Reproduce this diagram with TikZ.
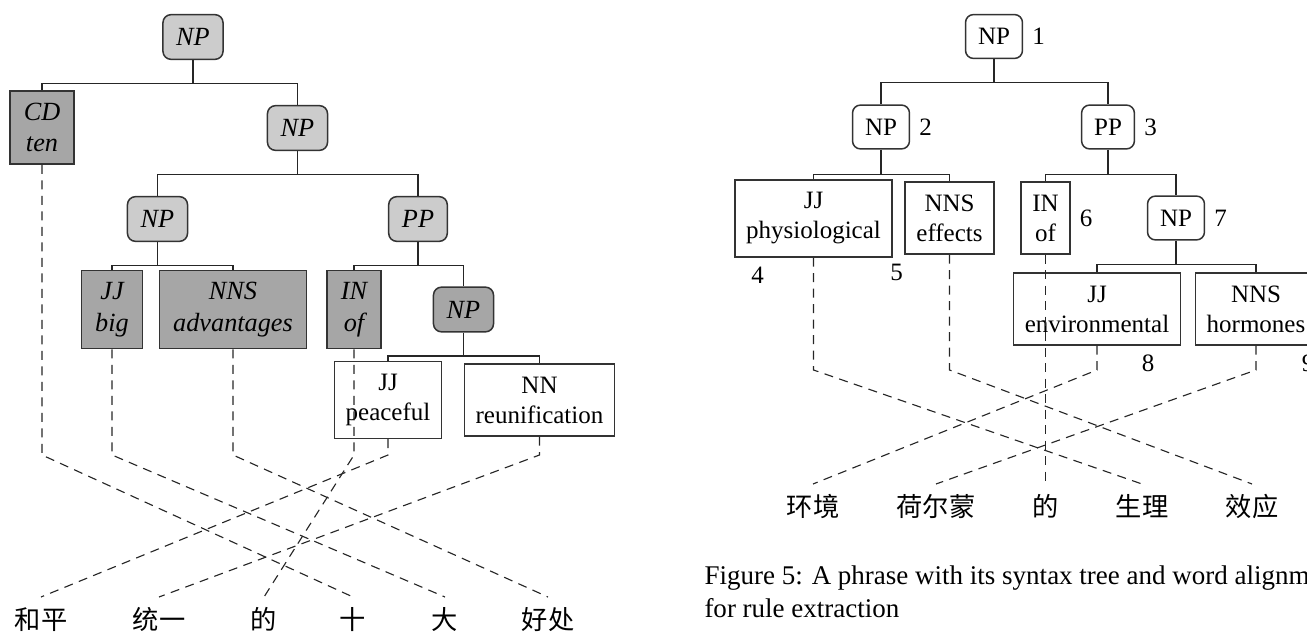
\documentclass[tikz,border=0pt]{standalone}
\usepackage{fontspec}
\setmainfont{Liberation Serif}
\newfontfamily\cjk{Noto Sans CJK SC}
\usetikzlibrary{positioning, calc}
\tikzset{
  cat/.style={
    rectangle, rounded corners=3.2pt, draw=black!80, fill=black!20,
    line width=0.6pt, inner xsep=5.3pt, inner ysep=5.5pt,
    font=\fontsize{10.5}{12.6}\selectfont\itshape
  },
  catdark/.style={cat, fill=black!35},
  leaf/.style={
    rectangle, draw=black!80, fill=black!35, line width=0.6pt,
    inner xsep=5.5pt, inner ysep=4.8pt, align=center,
    font=\fontsize{10.5}{12.6}\selectfont\itshape
  },
  wleaf/.style={
    rectangle, draw=black!80, fill=white, line width=0.6pt,
    inner xsep=4.5pt, inner ysep=5pt, align=center
  },
  wcat/.style={
    rectangle, rounded corners=3.2pt, draw=black!80, fill=white,
    line width=0.6pt, inner xsep=5pt, inner ysep=5.5pt
  },
  num/.style={inner sep=0pt},
  word/.style={font=\cjk\fontsize{10.5}{12}\selectfont, inner sep=4pt, anchor=north},
  branch/.style={line width=0.5pt, black!85},
  wordlink/.style={dash pattern=on 3.6pt off 2.6pt, line width=0.45pt, black!85}
}

\begin{document}
\begin{tikzpicture}[x=0.4pt, y=-0.4pt]
    \useasboundingbox (0,0) rectangle (1307,632);
    \clip (0,0) rectangle (1307,632);

    % Left tree
    \node[cat] (lroot) at (193,37) {NP};
    \node[leaf] (lcd) at (42,127.5) {CD\\ten};
    \node[cat] (lnp2) at (297.5,128) {NP};
    \node[cat] (lnp3) at (157.5,219) {NP};
    \node[cat] (lpp) at (418,219) {PP};
    \node[leaf] (ljj) at (112,309.5) {JJ\\big};
    \node[leaf] (lnns) at (233,309.5) {NNS\\advantages};
    \node[leaf] (lin) at (354,309.5) {IN\\of};
    \node[catdark] (lnp4) at (463.5,309.5) {NP};
    \node[wleaf] (lpeace) at (388,400) {JJ\\peaceful};
    \node[wleaf] (lreun) at (539.5,400) {NN\\reunification};

    \draw[branch] (lroot.south) -- ++(0,23.5) coordinate (lb1)
      (lb1) -| (lcd.north) (lb1) -| (lnp2.north);
    \draw[branch] (lnp2.south) -- ++(0,23.5) coordinate (lb2)
      (lb2) -| (lnp3.north) (lb2) -| (lpp.north);
    \draw[branch] (lnp3.south) -- ++(0,23.5) coordinate (lb3)
      (lb3) -| (ljj.north) (lb3) -| (lnns.north);
    \draw[branch] (lpp.south) -- ++(0,23.5) coordinate (lb4)
      (lb4) -| (lin.north) (lb4) -| (lnp4.north);
    \draw[branch] (lnp4.south) -- ++(0,23.5) coordinate (lb5)
      (lb5) -| (lpeace.north) (lb5) -| (lreun.north);

    % Left Chinese words
    \node[word] (lw1) at (41,597) {和平};
    \node[word] (lw2) at (159,597) {统一};
    \node[word] (lw3) at (264,597) {的};
    \node[word] (lw4) at (353,597) {十};
    \node[word] (lw5) at (445,597) {大};
    \node[word] (lw6) at (548,597) {好处};

    % Left alignment
    \draw[wordlink] (lcd.south) -- (lcd.south |- 0,455) -- (lw4.north);
    \draw[wordlink] (ljj.south) -- (ljj.south |- 0,455) -- (lw5.north);
    \draw[wordlink] (lnns.south) -- (lnns.south |- 0,455) -- (lw6.north);
    \draw[wordlink] (lin.south) -- (lin.south |- 0,455) -- (lw3.north);
    \draw[wordlink] (lpeace.south) -- (lpeace.south |- 0,455) -- (lw1.north);
    \draw[wordlink] (lreun.south) -- (lreun.south |- 0,455) -- (lw2.north);

    % Right tree
    \node[wcat] (rroot) at (994,36.5) {NP};
    \node[wcat] (rnp2) at (881,127) {NP};
    \node[wcat] (rpp) at (1108,127) {PP};
    \node[wleaf] (rphys) at (813.5,218.5) {JJ\\physiological};
    \node[wleaf] (reff) at (949.5,218) {NNS\\effects};
    \node[wleaf] (rin) at (1045.5,218) {IN\\of};
    \node[wcat] (rnp7) at (1176,218) {NP};
    \node[wleaf] (renv) at (1097,309) {JJ\\environmental};
    \node[wleaf] (rhorm) at (1256,309) {NNS\\hormones};

    \node[num, right=3.5pt of rroot] (n1) {1};
    \node[num, right=3.5pt of rnp2] (n2) {2};
    \node[num, right=3.5pt of rpp] (n3) {3};
    \node[num] (n4) at ([shift={(-56,18)}]rphys.south) {4};
    \node[num] (n5) at ([shift={(-53,18)}]reff.south) {5};
    \node[num, right=3.5pt of rin] (n6) {6};
    \node[num, right=3.5pt of rnp7] (n7) {7};
    \node[num] (n8) at ([shift={(51,18)}]renv.south) {8};
    \node[num] (n9) at ([shift={(52,18)}]rhorm.south) {9};

    \draw[branch] (rroot.south) -- ++(0,23.5) coordinate (rb1)
      (rb1) -| (rnp2.north) (rb1) -| (rpp.north);
    \draw[branch] (rnp2.south) -- ++(0,24.5) coordinate (rb2)
      (rb2) -| (rphys.north) (rb2) -| (reff.north);
    \draw[branch] (rpp.south) -- ++(0,24.5) coordinate (rb3)
      (rb3) -| (rin.north) (rb3) -| (rnp7.north);
    \draw[branch] (rnp7.south) -- ++(0,24) coordinate (rb4)
      (rb4) -| (renv.north) (rb4) -| (rhorm.north);

    % Right Chinese words
    \node[word] (rw1) at (813,484) {环境};
    \node[word] (rw2) at (936,484) {荷尔蒙};
    \node[word] (rw3) at (1045.5,484) {的};
    \node[word] (rw4) at (1142,484) {生理};
    \node[word] (rw5) at (1252,484) {效应};

    % Right alignment
    \draw[wordlink] (rphys.south) -- (rphys.south |- 0,370) -- (rw4.north);
    \draw[wordlink] (reff.south) -- (reff.south |- 0,370) -- (rw5.north);
    \draw[wordlink] (rin.south) -- (rw3.north);
    \draw[wordlink] (renv.south) -- (renv.south |- 0,370) -- (rw1.north);
    \draw[wordlink] (rhorm.south) -- (rhorm.south |- 0,370) -- (rw2.north);

    % Caption
    \node[anchor=base west, inner sep=0pt, font=\fontsize{10.8}{13}\selectfont] (cap1) at (704,584)
      {Figure 5: A phrase with its syntax tree and word alignment};
    \node[anchor=base west, inner sep=0pt, font=\fontsize{10.8}{13}\selectfont] (cap2) at (704,617)
      {for rule extraction};
\end{tikzpicture}
\end{document}
